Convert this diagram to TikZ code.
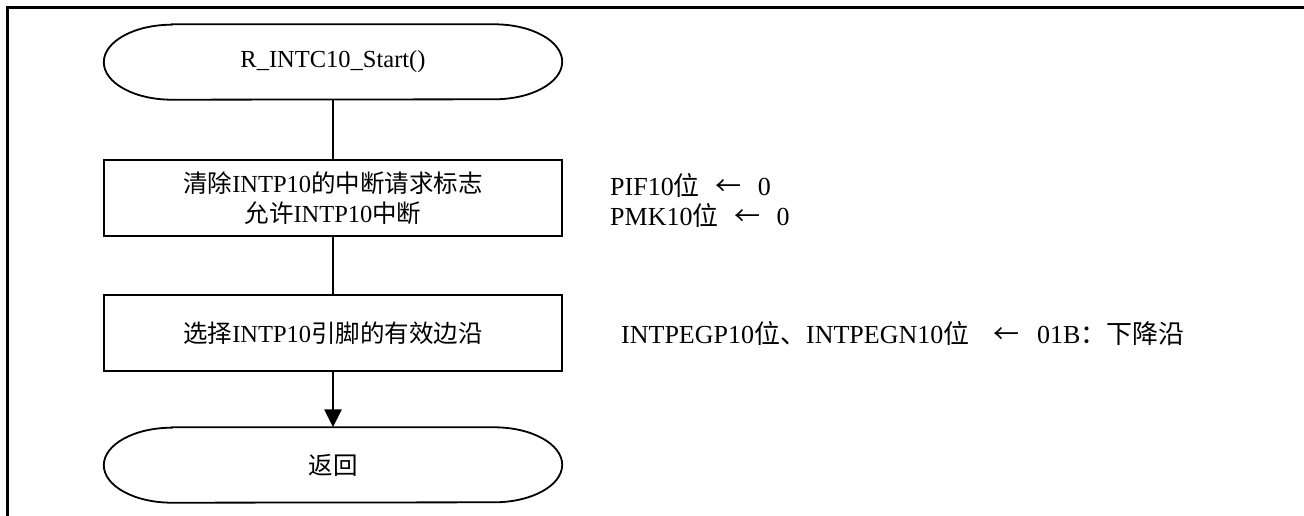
\documentclass[tikz,border=0pt]{standalone}
\usepackage{fontspec}
\setmainfont{Liberation Serif}
\newfontfamily\cjk{Noto Sans CJK SC}
\usetikzlibrary{arrows.meta}
\newcommand\ovaldraw[1]{%
  \draw[line width=1.8pt] ([xshift=68pt]#1.north west) -- ([xshift=-68pt]#1.north east)
    arc[start angle=90,end angle=-90,x radius=68pt,y radius=37.5pt]
    -- ([xshift=68pt]#1.south west)
    arc[start angle=270,end angle=90,x radius=68pt,y radius=37.5pt] -- cycle;}
\begin{document}
\begin{tikzpicture}[x=1pt,y=-1pt,
  frameline/.style={line width=2.6pt},
  term/.style={minimum width=458pt,minimum height=75pt,inner sep=0pt},
  procbox/.style={draw,line width=1.8pt,minimum width=458pt,minimum height=76pt,align=center,inner sep=0pt},
  link/.style={line width=2.5pt},
  note/.style={anchor=west,inner sep=0pt,font=\fontsize{26}{30}\selectfont},
  every node/.style={font=\fontsize{24.5}{30}\selectfont}
]
\useasboundingbox (0,0) rectangle (1304,516);
\draw[frameline] (7.5,516) -- (7.5,7.5) -- (1304,7.5);

\node[term] (start) at (333,62) {R\_INTC10\_Start()};
\ovaldraw{start}
\node[procbox] (b1) at (333,198)
  {{\cjk 清除}INTP10{\cjk 的中断请求标志}\\{\cjk 允许}INTP10{\cjk 中断}};
\node[procbox] (b2) at (333,333)
  {{\cjk 选择}INTP10{\cjk 引脚的有效边沿}};
\node[term] (ret) at (333,465) {\cjk 返回};
\ovaldraw{ret}

\draw[link] (start) -- (b1);
\draw[link] (b1) -- (b2);
\draw[link,-{Triangle[length=18pt,width=17pt]}] (b2) -- (ret);

\node[note] (n1) at (610,186) {PIF10{\cjk 位}\hspace{16pt}{\cjk ←}\hspace{16pt}0};
\node[note] (n2) at (610,216) {PMK10{\cjk 位}\hspace{16pt}{\cjk ←}\hspace{16pt}0};
\node[note] (n3) at (621,334) {\makebox[372pt][l]{INTPEGP10{\cjk 位、}INTPEGN10{\cjk 位}}{\cjk ←}\hspace{18pt}01B{\cjk ：下降沿}};
\end{tikzpicture}
\end{document}
